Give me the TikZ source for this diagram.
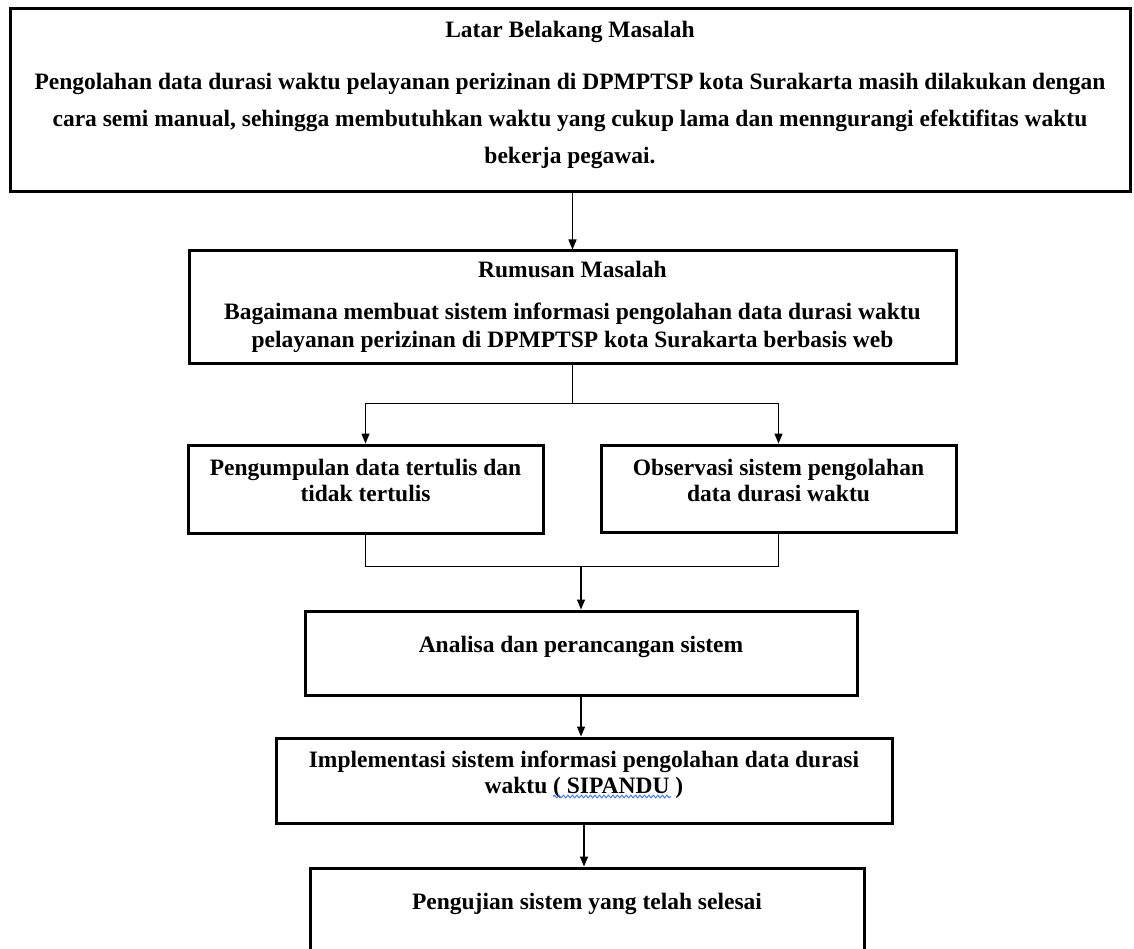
\documentclass[tikz,border=0pt]{standalone}
\usepackage{fontspec}
\setmainfont{Liberation Serif}
\usetikzlibrary{arrows.meta,positioning,decorations.pathmorphing}

\definecolor{wavyblue}{HTML}{4A7BD8}
\newcommand{\lift}{\rule[-17pt]{0pt}{0pt}}

\begin{document}
\begin{tikzpicture}[x=1pt,y=1pt,>={Triangle[length=10pt,width=8pt]},
    box/.style={draw,line width=3pt,align=center,inner sep=0pt,
      font=\bfseries\fontsize{23.5}{26}\selectfont},
    line/.style={line width=1.4pt},
    wavy/.style={wavyblue,line width=1pt,decorate,
      decoration={snake,amplitude=1.3pt,segment length=4.5pt}}]
  \useasboundingbox (0,0) rectangle (1134,-949);

  \node (latar) [box,minimum width=1120pt,minimum height=183pt,
    font=\bfseries\fontsize{23.5}{37}\selectfont] at (570,-100.5)
    {Latar Belakang Masalah\\[15pt]
     Pengolahan data durasi waktu pelayanan perizinan di DPMPTSP kota Surakarta masih dilakukan dengan\\
     cara semi manual, sehingga membutuhkan waktu yang cukup lama dan menngurangi efektifitas waktu\\
     bekerja pegawai.\lift};
  \node (rumusan) [box,minimum width=767pt,minimum height=112pt,
    font=\bfseries\fontsize{23.5}{28}\selectfont] at (572.5,-307)
    {Rumusan Masalah\\[14pt]
     Bagaimana membuat sistem informasi pengolahan data durasi waktu\\
     pelayanan perizinan di DPMPTSP kota Surakarta berbasis web};
  \node (pengumpulan) [box,minimum width=355pt,minimum height=88pt] at (365.5,-489)
    {Pengumpulan data tertulis dan\\ tidak tertulis\lift};
  \node (observasi) [box,minimum width=355pt,minimum height=87pt] at (778.5,-488.5)
    {Observasi sistem pengolahan\\ data durasi waktu\lift};
  \node (analisa) [box,minimum width=552pt,minimum height=84pt] at (581,-653)
    {Analisa dan perancangan sistem\lift};
  \node (implementasi) [box,minimum width=616pt,minimum height=85pt] at (584,-780.5)
    {Implementasi sistem informasi pengolahan data durasi\\
     waktu ( SIPANDU )\lift};
  \node (pengujian) [box,minimum width=554pt,minimum height=84pt] at (587,-910)
    {Pengujian sistem yang telah selesai\lift};

  % spell-check wave under SIPANDU
  \draw[wavy] ([shift={(-31,-16)}]implementasi.center) -- ++(118,0);

  % arrows between the stages
  \draw[line,->] (latar.south -| rumusan.north) -- (rumusan.north);
  \draw[line] (rumusan.south) -- ++(0,-39) coordinate (split);
  \draw[line,->] (split) -| (pengumpulan.north);
  \draw[line,->] (split) -| (observasi.north);
  \path (analisa.north) ++(0,43) coordinate (join);
  \draw[line] (pengumpulan.south) |- (join) -| (observasi.south);
  \draw[line,->] (join) -- (analisa.north);
  \draw[line,->] (analisa.south) -- (analisa.south |- implementasi.north);
  \draw[line,->] (implementasi.south) -- (implementasi.south |- pengujian.north);
\end{tikzpicture}
\end{document}
